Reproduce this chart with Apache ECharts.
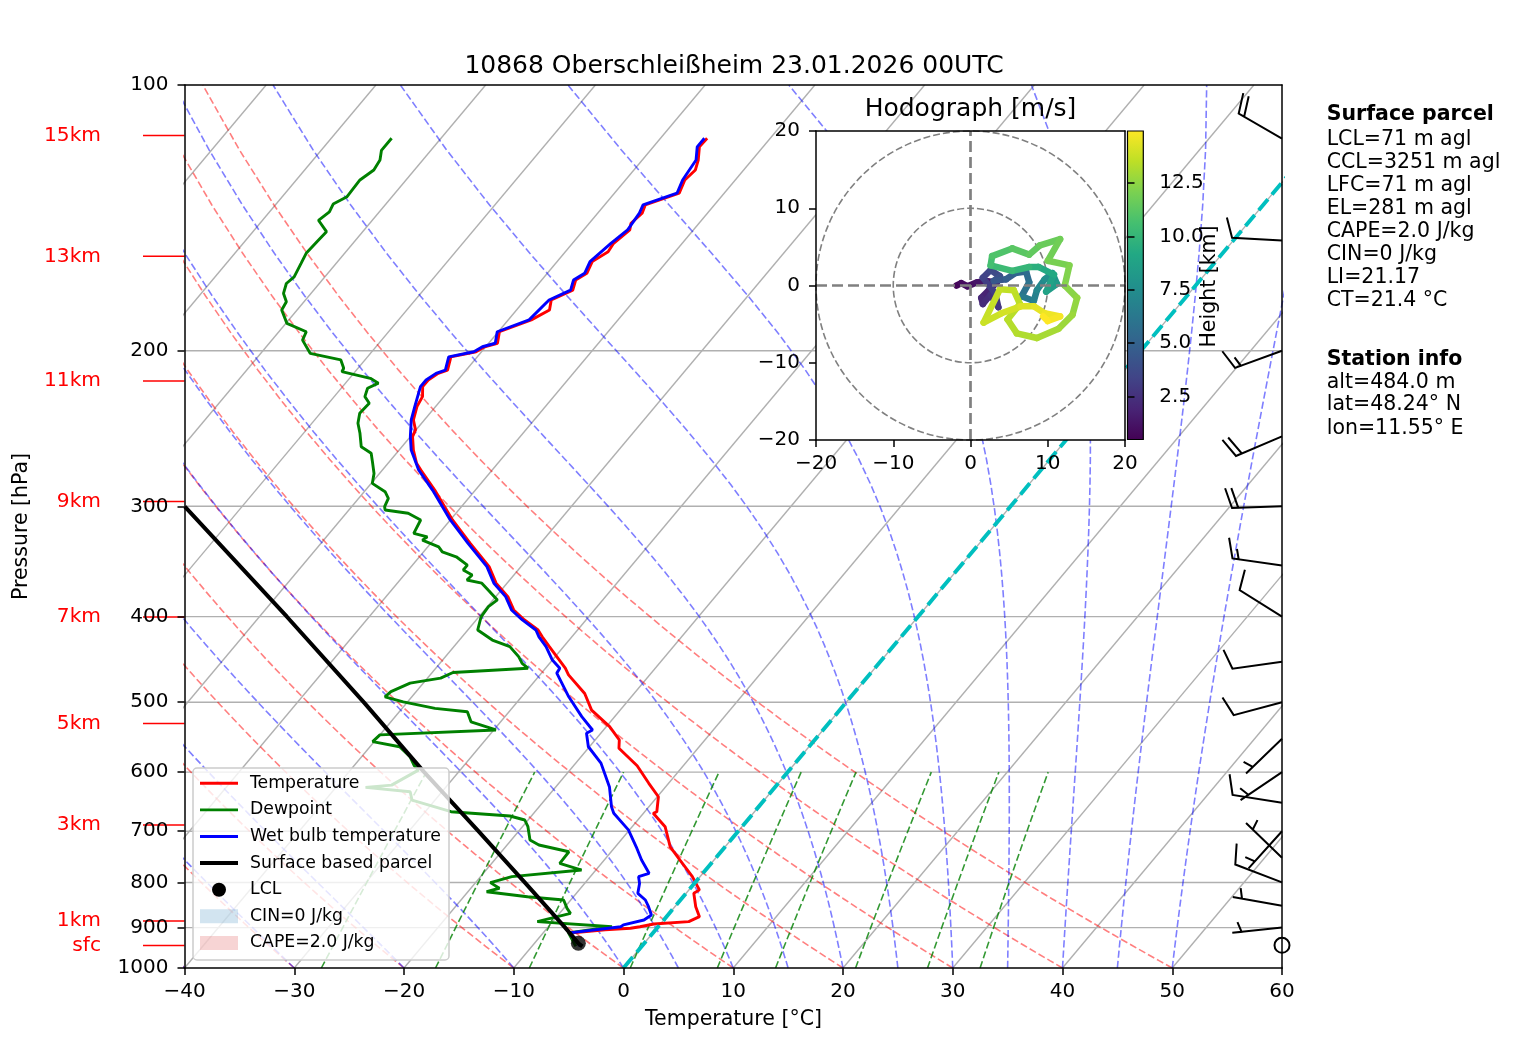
<!DOCTYPE html>
<html>
<head>
<meta charset="utf-8">
<title>10868 Oberschleißheim skew-T</title>
<script src="https://cdn.jsdelivr.net/npm/echarts@6.0.0/dist/echarts.min.js"></script>
<style>
  html, body { margin: 0; padding: 0; background: #fff; }
  #main { width: 1517px; height: 1054px; }
</style>
</head>
<body>
<div id="main"></div>
<script>
// sounding profiles, [pressure hPa, value degC], surface first
var tempProfile = [[945, -5.5], [913, -7.5], [905, -4.6], [901.6, -2.4], [898, -1.65], [891.6, -0.6], [886, 2.4],
  [874.7, 3.0], [852.3, 1.9], [823, 0.7], [815.7, 0.95], [788.1, -0.7], [754.6, -3.1], [729, -5.0], [691.8, -7.0],
  [668.1, -9.1], [665.3, -8.9], [639.8, -9.9], [617.8, -11.8], [590.2, -14.2], [563.8, -17.2], [551.7, -17.8],
  [532.9, -19.7], [510.5, -22.6], [488.8, -24.5], [465.6, -27.4], [457.6, -28.2], [432.6, -31.3], [421.6, -32.7],
  [414.2, -33.6], [403.5, -35.6], [393.1, -37.35], [379.7, -38.9], [366.6, -41.0], [351.1, -42.9], [330.4, -46.4],
  [310.9, -49.8], [287.6, -53.7], [272.9, -56.5], [268.2, -57.4], [259.1, -58.7], [250.2, -59.8], [245.8, -60.05],
  [239.5, -61.0], [231.3, -61.7], [225.4, -61.95], [219.6, -62.7], [215.8, -62.7], [212.1, -62.3], [210.3, -61.7],
  [203.2, -62.4], [200.5, -60.5], [197.9, -60.1], [196.1, -59.2], [190.3, -59.9], [184.5, -57.9], [179.8, -57.0],
  [175.2, -57.6], [170.7, -56.4], [166.3, -56.9], [163.4, -56.4], [158.5, -56.8], [154.5, -56.1], [151.1, -56.25],
  [145.9, -55.8], [143.4, -56.2], [139.7, -55.95], [136.7, -56.3], [132.6, -54.1], [128.1, -54.6], [124.8, -54.4],
  [121.6, -54.9], [117.5, -55.8], [114.9, -55.75]];

var dewProfile = [[945, -6.0], [912.4, -7.7], [898, -4.2], [886, -11.4], [867.3, -9.0], [855.9, -9.7], [837.5, -10.65],
  [830.5, -14.2], [819.6, -18.3], [812.2, -17.4], [800.4, -18.65], [788.1, -17.15], [774.6, -11.3], [761.2, -13.8],
  [738.5, -13.85], [725.6, -17.1], [716.1, -18.3], [691.8, -19.5], [679.8, -20.3], [672.8, -21.95], [665.3, -27.65],
  [645.3, -32.1], [631.5, -32.9], [624.4, -37.3], [620.7, -35.1], [596.9, -33.8], [590.2, -34.5], [576.2, -35.6],
  [561.6, -37.3], [554.1, -40.15], [544.5, -40.0], [537.6, -29.8], [526.2, -32.7], [512.6, -33.8], [508.2, -37.0],
  [499.5, -40.4], [493, -42.45], [486.4, -42.3], [475.8, -41.2], [469.6, -38.8], [462.8, -38.1], [457.6, -31.6],
  [451.9, -32.5], [444.3, -33.3], [432.6, -34.9], [425.2, -37.0], [414.2, -39.1], [400.2, -39.8], [389.8, -39.9],
  [383, -39.6], [373.2, -41.2], [366.6, -42.3], [363.6, -43.9], [358.9, -43.8], [354.2, -45.0], [349.7, -45.0],
  [342.2, -46.65], [337.8, -48.3], [333.5, -49.0], [327.7, -51.0], [324.9, -50.8], [322, -52.3], [310.9, -52.7],
  [305.5, -54.35], [302.9, -56.7], [300.3, -57.0], [293.8, -57.3], [288.8, -58.1], [282.6, -59.9], [275.4, -60.5],
  [268.2, -61.4], [261.3, -62.3], [256.9, -63.7], [248, -64.85], [241.6, -65.8], [235.4, -66.4], [229.3, -66.3],
  [225.4, -67.2], [220.5, -67.6], [217.6, -67.0], [214.9, -68.1], [211.2, -71.2], [209.3, -71.3], [204.8, -72.2],
  [201.3, -75.5], [194.5, -77.2], [190.3, -77.5], [186.2, -79.9], [179.8, -81.4], [176, -81.6], [172.2, -82.5],
  [167.8, -83.0], [164.9, -82.8], [159.2, -83.2], [155.1, -83.5], [150.5, -83.4], [146.6, -83.3], [142.3, -84.9],
  [139.2, -84.55], [136.4, -84.8], [133.8, -84.1], [128.1, -84.2], [124.8, -83.7], [121.6, -83.9], [118.6, -84.5],
  [114.9, -84.5]];

var wetBulbProfile = [[945, -5.6], [912.4, -7.6], [898, -3.4], [893.6, -3.3], [882.4, -1.8], [871, -1.5], [852.3, -2.4],
  [837.5, -3.2], [823, -4.4], [802, -5.0], [788.1, -5.6], [781.2, -4.9], [754.6, -6.6], [729, -8.1], [697.6, -10.1],
  [668.1, -12.7], [656.9, -13.4], [623.8, -15.1], [586.1, -17.7], [561.6, -20.1], [542.2, -21.3], [537.6, -21.0],
  [519.2, -23.0], [493, -25.7], [463.5, -28.6], [457.6, -28.7], [448, -30.0], [432.6, -31.6], [421.6, -33.0],
  [414.2, -33.8], [403.5, -35.8], [393.1, -37.55], [379.7, -39.1], [366.6, -41.2], [351.1, -43.1], [330.4, -46.6],
  [310.9, -50.0], [287.6, -53.9], [272.9, -56.7], [259.1, -58.9], [250.2, -60.0], [239.5, -61.2], [231.3, -61.9],
  [219.6, -62.9], [215.8, -62.9], [212.1, -62.5], [210.3, -61.9], [203.2, -62.6], [200.5, -60.7], [197.9, -60.3],
  [196.1, -59.4], [190.3, -60.1], [184.5, -58.1], [175.2, -57.8], [170.7, -56.6], [166.3, -57.1], [163.4, -56.6],
  [158.5, -57.0], [151.1, -56.5], [145.9, -56.0], [139.7, -56.2], [136.7, -56.5], [132.6, -54.3], [128.1, -54.8],
  [121.6, -55.1], [117.5, -56.0], [114.9, -56.0]];

var parcelProfile = [[945, -5.4], [937.6, -6.0], [900, -8.4], [800.4, -15.5], [700.6, -23.6], [599.3, -33.2],
  [500.6, -43.9], [400.1, -57.5], [300.3, -75.2]];
var lclPoint = [937.6, -6.0];

// wind barbs: [pressure hPa, direction deg, speed kt]
var windBarbs = [[942.5, 0, 0], [900, 264, 5], [850, 280, 5], [800, 291, 10], [750, 314, 5], [700, 222, 5],
  [650, 279, 10], [600, 236, 5], [550, 226, 5], [500, 255, 10], [450, 262, 10], [400, 302, 10], [350, 278, 15],
  [300, 268, 20], [250, 247, 20], [200, 250, 15], [150, 273, 10], [115, 300, 20]];

// hodograph: [u m/s, v m/s, height km]
var hodoPath = [[-1.8, 0.0, 0.5], [-1.2, 0.3, 0.7], [-0.4, -0.1, 0.9], [0.8, 0.4, 1.1], [2.0, 0.6, 1.3],
  [3.4, 0.4, 1.5], [2.4, -0.6, 1.7], [1.4, -1.6, 1.9], [1.6, -2.4, 2.1], [2.6, -1.2, 2.3], [3.6, -2.8, 2.5],
  [3.2, -1.0, 2.8], [1.6, 1.0, 3.1], [2.6, 2.0, 3.4], [3.8, 1.2, 3.7], [3.0, 0.6, 4.0], [4.6, 0.8, 4.4],
  [5.8, 1.6, 4.8], [7.2, 1.8, 5.2], [7.6, 0.4, 5.6], [6.6, -1.4, 6.0], [8.2, -2.0, 6.4], [8.6, -0.6, 6.8],
  [9.6, 0.8, 7.2], [10.6, 1.6, 7.6], [11.2, 0.2, 8.0], [9.8, -0.8, 8.4], [10.8, 1.4, 8.8], [8.8, 2.4, 9.2],
  [7.6, 2.4, 9.6], [5.4, 1.9, 10.0], [2.6, 2.6, 10.3], [2.8, 3.8, 10.6], [5.4, 4.8, 10.9], [7.6, 4.0, 11.2],
  [9.0, 5.2, 11.4], [11.6, 6.0, 11.6], [10.0, 3.2, 11.8], [12.8, 2.6, 12.0], [12.2, 0.0, 12.2], [13.8, -1.6, 12.4],
  [13.2, -3.8, 12.6], [11.4, -5.6, 12.8], [8.6, -6.8, 13.0], [6.0, -6.2, 13.2], [4.8, -4.4, 13.3], [6.4, -2.4, 13.4],
  [5.6, -0.6, 13.5], [3.8, -0.5, 13.6], [1.7, -4.8, 13.7], [4.0, -3.6, 13.8], [6.5, -2.7, 14.0], [8.2, -2.7, 14.2],
  [9.6, -3.6, 14.4], [11.6, -4.0, 14.6], [10.0, -4.6, 14.8], [9.4, -4.0, 14.95]];

// height marks on the pressure axis
var heightMarks = [[114.1, '15km'], [156.3, '13km'], [216.4, '11km'], [296.2, '9km'], [400.4, '7km'],
  [528.6, '5km'], [688.8, '3km'], [884.7, '1km'], [943.1, 'sfc']];

var pressureTicks = [100, 200, 300, 400, 500, 600, 700, 800, 900, 1000];
var heightTicks = [2.5, 5.0, 7.5, 10.0, 12.5];
var heightRange = [0.48, 14.95];

var parcelText = ['LCL=71 m agl', 'CCL=3251 m agl', 'LFC=71 m agl', 'EL=281 m agl', 'CAPE=2.0 J/kg',
  'CIN=0 J/kg', 'LI=21.17', 'CT=21.4 °C'];
var stationText = ['alt=484.0 m', 'lat=48.24° N', 'lon=11.55° E'];

// background line families
var dryStarts = [-40, -30, -20, -10, 0, 10, 20, 30, 40, 50];
var moistStarts = [-40, -30, -20, -10, 0, 5, 10, 15, 20, 25, 30, 35, 40, 45, 50];
var mixRatios = [0.0004, 0.001, 0.002, 0.004, 0.007, 0.01, 0.016, 0.024, 0.032];

var VIRIDIS = ['#440154', '#482475', '#414487', '#355f8d', '#2a788e', '#21918c', '#22a884', '#44bf70',
  '#7ad151', '#bddf26', '#fde725'];

var FONT = 'DejaVu Sans';
var TICK_FS = 20, TEXT_FS = 20.5, TITLE_FS = 25;
var K = 67.44; // skew: degC added per decade of pressure

function skewX(t, p) { return t + K * Math.log10(1000 / p); }
function skewed(profile) { return profile.map(function (d) { return [skewX(d[1], d[0]), d[0]]; }); }
function minus(v) { return String(v).replace('-', '\u2212'); }

function satMix(p, tK) {
  var tc = tK - 273.15;
  var es = 6.112 * Math.exp(17.67 * tc / (tc + 243.5));
  return 0.6219569 * es / (p - es);
}
function moistDtDp(p, tK) {
  var Rd = 287.04749, Lv = 2.50084e6, Cp = 1004.666, eps = 0.6219569;
  var rs = satMix(p, tK);
  return (Rd * tK + Lv * rs) / (Cp + Lv * Lv * rs * eps / (Rd * tK * tK)) / p;
}

var levels = [];
for (var i = 0; i < 50; i++) levels.push(1000 - i * 900 / 49);

function refLine(data, color, width, type, opacity) {
  return {
    type: 'line', xAxisIndex: 0, yAxisIndex: 0, data: data, symbol: 'none', silent: true, z: 1,
    lineStyle: {color: color, width: width, type: type, opacity: opacity}
  };
}

var series = [];

// skewed isotherms (grid)
for (var t = -120; t <= 60; t += 10) {
  series.push(refLine([[t, 1000], [t + K, 100]], '#b0b0b0', 1.4, 'solid', 1));
}
// pressure grid
pressureTicks.slice(1, 9).forEach(function (p) {
  series.push(refLine([[-40, p], [60, p]], '#b0b0b0', 1.4, 'solid', 1));
});
// dry adiabats
dryStarts.forEach(function (t0) {
  var d = levels.map(function (p) {
    var tt = (t0 + 273.15) * Math.pow(p / 1000, 0.28571) - 273.15;
    return [skewX(tt, p), p];
  });
  series.push(refLine(d, '#ff0000', 1.6, [7.2, 3.1], 0.5));
});
// moist adiabats
moistStarts.forEach(function (t0) {
  var tk = t0 + 273.15, d = [[skewX(t0, levels[0]), levels[0]]];
  for (var j = 1; j < levels.length; j++) {
    var p = levels[j - 1], h = (levels[j] - levels[j - 1]) / 10;
    for (var s = 0; s < 10; s++) {
      var k1 = moistDtDp(p, tk);
      var k2 = moistDtDp(p + h / 2, tk + h / 2 * k1);
      var k3 = moistDtDp(p + h / 2, tk + h / 2 * k2);
      var k4 = moistDtDp(p + h, tk + h * k3);
      tk += h / 6 * (k1 + 2 * k2 + 2 * k3 + k4);
      p += h;
    }
    d.push([skewX(tk - 273.15, levels[j]), levels[j]]);
  }
  series.push(refLine(d, '#0000ff', 1.6, [7.2, 3.1], 0.5));
});
// mixing ratio lines
mixRatios.forEach(function (w) {
  var d = [];
  for (var p = 1000; p >= 600; p -= 20) {
    var e = p * w / (0.6219569 + w), lv = Math.log(e / 6.112);
    var td = 243.5 * lv / (17.67 - lv);
    d.push([skewX(td, p), p]);
  }
  series.push(refLine(d, '#008000', 1.6, [7.2, 3.1], 0.8));
});

function profileLine(name, profile, color, width) {
  return {
    name: name, type: 'line', xAxisIndex: 0, yAxisIndex: 0, data: skewed(profile), symbol: 'none',
    silent: true, z: 2, lineStyle: {color: color, width: width}
  };
}
series.push(profileLine('Temperature', tempProfile, '#ff0000', 2.9));
series.push(profileLine('Dewpoint', dewProfile, '#008000', 2.9));
series.push(profileLine('Wet bulb temperature', wetBulbProfile, '#0000ff', 2.9));
series.push(profileLine('Surface based parcel', parcelProfile, '#000000', 4));
series.push(refLine([[0, 1000], [K, 100]], '#00bfbf', 3.9, [14.4, 6.2], 1));
series[series.length - 1].z = 2;
series.push({
  name: 'LCL', type: 'scatter', xAxisIndex: 0, yAxisIndex: 0, z: 3, silent: true,
  data: [[skewX(lclPoint[1], lclPoint[0]), lclPoint[0]]], symbol: 'circle', symbolSize: 15,
  itemStyle: {color: '#000'}
});

// wind barbs at the right edge
series.push({
  type: 'custom', xAxisIndex: 0, yAxisIndex: 0, z: 3, silent: true,
  data: windBarbs.map(function (w) { return [60, w[0], w[1], w[2]]; }),
  encode: {x: 0, y: 1},
  renderItem: function (params, api) {
    var base = api.coord([api.value(0), api.value(1)]);
    var dir = api.value(2), spd = api.value(3), L = 50;
    if (spd < 2.5) {
      return {type: 'circle', shape: {cx: base[0], cy: base[1], r: 0.15 * L},
        style: {stroke: '#000', lineWidth: 2, fill: 'rgba(0,0,0,0)'}};
    }
    var rad = dir * Math.PI / 180;
    var u = -spd * Math.sin(rad), v = -spd * Math.cos(rad);
    var th = Math.atan2(v, u) + Math.PI / 2, c = Math.cos(th), s = Math.sin(th);
    function pt(x, y) { return [base[0] + x * c - y * s, base[1] - (x * s + y * c)]; }
    var mag = Math.round(spd / 5) * 5;
    var nFull = Math.floor(mag / 10), half = (mag % 10) >= 5;
    var sp = 0.125 * L, fh = 0.4 * L, fw = 0.25 * L, off = L;
    var pts = [pt(0, 0)];
    for (var k = 0; k < nFull; k++) {
      pts.push(pt(0, off), pt(fh, off + fw / 2), pt(0, off));
      off -= sp;
    }
    if (half) {
      if (off === L) { pts.push(pt(0, off)); off -= 1.5 * sp; }
      pts.push(pt(0, off), pt(fh / 2, off + fw / 4), pt(0, off));
    }
    return {type: 'polyline', shape: {points: pts},
      style: {stroke: '#000', lineWidth: 2, fill: null, lineJoin: 'miter'}};
  }
});

// height marks left of the pressure axis
series.push({
  type: 'custom', xAxisIndex: 0, yAxisIndex: 0, z: 3, silent: true, clip: false,
  data: heightMarks.map(function (m) { return [-40, m[0]]; }),
  encode: {x: 0, y: 1},
  renderItem: function (params, api) {
    var p = api.coord([api.value(0), api.value(1)]);
    return {type: 'group', children: [
      {type: 'line', shape: {x1: p[0] - 41.5, y1: p[1], x2: p[0], y2: p[1]},
        style: {stroke: '#ff0000', lineWidth: 1.5}},
      {type: 'text', style: {text: heightMarks[params.dataIndex][1], x: p[0] - 83.5, y: p[1],
        align: 'right', verticalAlign: 'middle', fill: '#ff0000', font: '20.2px "DejaVu Sans"'}}
    ]};
  }
});

// hodograph
series.push({
  type: 'line', xAxisIndex: 2, yAxisIndex: 2, z: 11, silent: true, symbol: 'none',
  data: [[0, -20], [0, 20]], lineStyle: {color: '#808080', width: 2.7, type: [11, 5]}
});
series.push({
  type: 'line', xAxisIndex: 2, yAxisIndex: 2, z: 11, silent: true, symbol: 'none',
  data: [[-20, 0], [20, 0]], lineStyle: {color: '#808080', width: 2.7, type: [11, 5]}
});
series.push({
  type: 'custom', xAxisIndex: 2, yAxisIndex: 2, z: 11, silent: true,
  data: [[0, 0, 10], [0, 0, 20]], encode: {x: 0, y: 1},
  renderItem: function (params, api) {
    var c = api.coord([api.value(0), api.value(1)]);
    var r = api.size([api.value(2), 0])[0];
    return {type: 'circle', shape: {cx: c[0], cy: c[1], r: r},
      style: {stroke: '#808080', lineWidth: 1.6, lineDash: [7, 3], fill: 'rgba(0,0,0,0)'}};
  }
});
var hodoSegments = [];
for (var n = 1; n < hodoPath.length; n++) {
  hodoSegments.push([hodoPath[n - 1][0], hodoPath[n - 1][1], hodoPath[n][0], hodoPath[n][1], hodoPath[n][2]]);
}
var hodoIndex = series.length;
series.push({
  type: 'custom', xAxisIndex: 2, yAxisIndex: 2, z: 11, silent: true,
  data: hodoSegments, encode: {x: [0, 2], y: [1, 3]},
  renderItem: function (params, api) {
    var a = api.coord([api.value(0), api.value(1)]);
    var b = api.coord([api.value(2), api.value(3)]);
    return {type: 'line', shape: {x1: a[0], y1: a[1], x2: b[0], y2: b[1]},
      style: {stroke: api.visual('color'), lineWidth: 6.5, lineCap: 'round'}};
  }
});
// colorbar
series.push({
  type: 'custom', xAxisIndex: 4, yAxisIndex: 4, z: 11, silent: true,
  data: [[0, heightRange[0], 1, heightRange[1]]], encode: {x: [0, 2], y: [1, 3]},
  renderItem: function (params, api) {
    var tl = api.coord([api.value(0), api.value(3)]);
    var br = api.coord([api.value(2), api.value(1)]);
    var stops = VIRIDIS.map(function (c, i) { return {offset: i / (VIRIDIS.length - 1), color: c}; });
    return {type: 'rect', shape: {x: tl[0], y: tl[1], width: br[0] - tl[0], height: br[1] - tl[1]},
      style: {fill: new echarts.graphic.LinearGradient(0, 1, 0, 0, stops), stroke: '#000', lineWidth: 1.2}};
  }
});

// static texts, legend, panel backgrounds
var graphics = [];
function txt(text, x, y, size, opts) {
  opts = opts || {};
  return {
    type: 'text', z: opts.z || 20, silent: true, rotation: opts.rotation || 0, x: x, y: y,
    style: {text: text, x: 0, y: 0, fill: opts.color || '#000', align: opts.align || 'left',
      verticalAlign: 'middle', font: (opts.bold ? 'bold ' : '') + size + 'px "DejaVu Sans"'}
  };
}
graphics.push({type: 'rect', z: 10, silent: true, shape: {x: 816, y: 131, width: 309, height: 309},
  style: {fill: '#ffffff'}});
graphics.push(txt('10868 Oberschleißheim 23.01.2026 00UTC', 734, 66.5, TITLE_FS, {align: 'center'}));
graphics.push(txt('Hodograph [m/s]', 970.5, 109.5, TITLE_FS, {align: 'center'}));
graphics.push(txt('Temperature [°C]', 733.5, 1020, TEXT_FS, {align: 'center'}));
graphics.push(txt('Pressure [hPa]', 22, 526.5, TEXT_FS, {align: 'center', rotation: Math.PI / 2}));
graphics.push(txt('Height [km]', 1210, 286.5, TEXT_FS, {align: 'center', rotation: Math.PI / 2}));

graphics.push(txt('Surface parcel', 1326.7, 114.3, TEXT_FS, {bold: true}));
var parcelY = [139.3, 162.7, 185.7, 208.3, 231.7, 255, 277.7, 301];
parcelText.forEach(function (s, i) { graphics.push(txt(s, 1326.7, parcelY[i], TEXT_FS)); });
graphics.push(txt('Station info', 1326.7, 359.3, TEXT_FS, {bold: true}));
var stationY = [382.3, 405, 428.3];
stationText.forEach(function (s, i) { graphics.push(txt(s, 1326.7, stationY[i], TEXT_FS)); });

// legend
var legendRows = [
  {label: 'Temperature', kind: 'line', color: '#ff0000', width: 2.9},
  {label: 'Dewpoint', kind: 'line', color: '#008000', width: 2.9},
  {label: 'Wet bulb temperature', kind: 'line', color: '#0000ff', width: 2.9},
  {label: 'Surface based parcel', kind: 'line', color: '#000000', width: 4},
  {label: 'LCL', kind: 'dot', color: '#000000'},
  {label: 'CIN=0 J/kg', kind: 'patch', color: 'rgba(31,119,180,0.2)'},
  {label: 'CAPE=2.0 J/kg', kind: 'patch', color: 'rgba(214,39,40,0.2)'}
];
graphics.push({type: 'rect', z: 20, silent: true, shape: {x: 193, y: 768, width: 256, height: 192, r: 4},
  style: {fill: 'rgba(255,255,255,0.8)', stroke: '#cccccc', lineWidth: 1.5}});
legendRows.forEach(function (row, i) {
  var y = 783.3 + i * 26.6;
  if (row.kind === 'line') {
    graphics.push({type: 'line', z: 21, silent: true, shape: {x1: 200, y1: y, x2: 238, y2: y},
      style: {stroke: row.color, lineWidth: row.width}});
  } else if (row.kind === 'dot') {
    graphics.push({type: 'circle', z: 21, silent: true, shape: {cx: 219, cy: y, r: 7}, style: {fill: row.color}});
  } else {
    graphics.push({type: 'rect', z: 21, silent: true, shape: {x: 200, y: y - 7, width: 38, height: 14},
      style: {fill: row.color}});
  }
  graphics.push(txt(row.label, 250, y, 17.3, {z: 21}));
});

var spine = {show: true, onZero: false, lineStyle: {color: '#000', width: 1.5}};
function spineAxis(grid, pos, z) {
  return {gridIndex: grid, type: 'value', position: pos, min: 0, max: 1, z: z, axisLine: spine,
    axisTick: {show: false}, axisLabel: {show: false}, splitLine: {show: false}};
}
var tick = {length: 7, lineStyle: {color: '#000', width: 1.5}};
var label = {fontSize: TICK_FS, color: '#000', fontFamily: FONT};

var option = {
  animation: false,
  backgroundColor: '#ffffff',
  textStyle: {fontFamily: FONT},
  grid: [
    {left: 184.5, top: 85, width: 1097.5, height: 883, outerBoundsMode: 'none'},
    {left: 816, top: 131, width: 309, height: 309, outerBoundsMode: 'none'},
    {left: 1127.5, top: 131, width: 15.8, height: 308.5, outerBoundsMode: 'none'}
  ],
  xAxis: [
    {gridIndex: 0, type: 'value', position: 'bottom', min: -40, max: 60, interval: 10, z: 5, axisLine: spine,
      axisTick: tick, axisLabel: Object.assign({margin: 14, formatter: minus}, label), splitLine: {show: false}},
    spineAxis(0, 'top', 5),
    {gridIndex: 1, type: 'value', position: 'bottom', min: -20, max: 20, interval: 10, z: 12, axisLine: spine,
      axisTick: tick, axisLabel: Object.assign({margin: 14, formatter: minus}, label), splitLine: {show: false}},
    spineAxis(1, 'top', 12),
    {gridIndex: 2, type: 'value', min: 0, max: 1, show: false}
  ],
  yAxis: [
    {gridIndex: 0, type: 'log', logBase: 10, position: 'left', min: 100, max: 1000, inverse: true, z: 5,
      axisLine: spine,
      axisTick: Object.assign({customValues: pressureTicks}, tick),
      axisLabel: Object.assign({margin: 16, customValues: pressureTicks,
        formatter: function (v) { return String(Math.round(v)); }}, label),
      splitLine: {show: false}, minorTick: {show: false}},
    spineAxis(0, 'right', 5),
    {gridIndex: 1, type: 'value', position: 'left', min: -20, max: 20, interval: 10, z: 12, axisLine: spine,
      axisTick: tick, axisLabel: Object.assign({margin: 16, formatter: minus}, label), splitLine: {show: false}},
    spineAxis(1, 'right', 12),
    {gridIndex: 2, type: 'value', position: 'right', min: heightRange[0], max: heightRange[1], z: 12,
      axisLine: {show: false},
      axisTick: Object.assign({customValues: heightTicks}, tick),
      axisLabel: Object.assign({margin: 16, customValues: heightTicks,
        formatter: function (v) { return Number(v).toFixed(1); }}, label),
      splitLine: {show: false}}
  ],
  visualMap: [{
    type: 'continuous', show: false, seriesIndex: hodoIndex, dimension: 4,
    min: heightRange[0], max: heightRange[1], inRange: {color: VIRIDIS}
  }],
  series: series,
  graphic: {elements: graphics}
};

var chart = echarts.init(document.getElementById('main'));
chart.setOption(option);
</script>
</body>
</html>
